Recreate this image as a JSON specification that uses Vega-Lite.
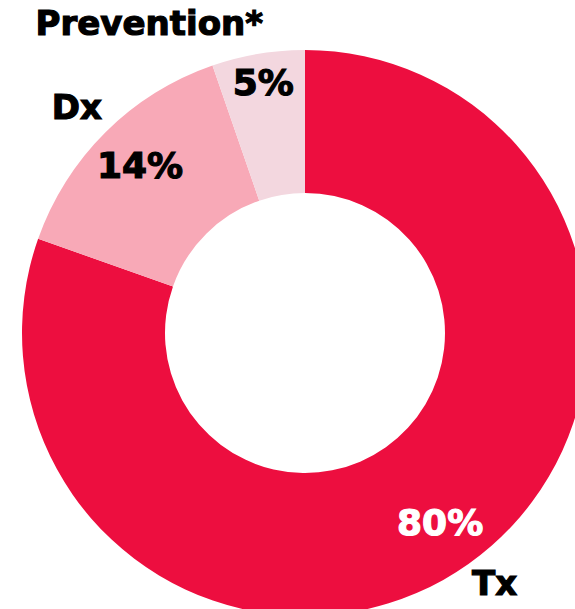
{
  "$schema": "https://vega.github.io/schema/vega-lite/v6.json",
  "autosize": "none",
  "width": 610,
  "height": 666,
  "padding": {"left": 0, "top": 0, "right": -35, "bottom": -57},
  "background": "white",
  "data": {
    "values": [
      {"name": "Tx", "title": "Tx", "value": 80.4, "label": "80%", "rank": 1},
      {"name": "Dx", "title": "Dx", "value": 14.3, "label": "14%", "rank": 2},
      {"name": "Prevention", "title": "Prevention*", "value": 5.3, "label": "5%", "rank": 3}
    ]
  },
  "encoding": {
    "theta": {"field": "value", "type": "quantitative", "stack": true},
    "order": {"field": "rank", "type": "quantitative"}
  },
  "layer": [
    {
      "mark": {"type": "arc", "radius": 283, "innerRadius": 140, "stroke": null},
      "encoding": {
        "color": {
          "field": "name",
          "type": "nominal",
          "scale": {"domain": ["Tx", "Dx", "Prevention"], "range": ["#ED0E3F", "#F8A9B7", "#F3D7DF"]},
          "legend": null
        }
      }
    },
    {
      "mark": {"type": "text", "radius": 234, "font": "DejaVu Sans", "fontWeight": "bold", "fontSize": 36, "align": "center", "baseline": "middle", "strokeWidth": 1.2},
      "encoding": {
        "text": {"condition": {"test": "datum.name !== 'Prevention'", "field": "label"}, "value": ""},
        "color": {"condition": {"test": "datum.name === 'Tx'", "value": "white"}, "value": "black"},
        "stroke": {"condition": {"test": "datum.name === 'Tx'", "value": "white"}, "value": "black"}
      }
    },
    {
      "mark": {"type": "text", "radius": 252, "font": "DejaVu Sans", "fontWeight": "bold", "fontSize": 36, "align": "center", "baseline": "middle", "color": "black", "stroke": "black", "strokeWidth": 1.2},
      "encoding": {
        "text": {"condition": {"test": "datum.name === 'Prevention'", "field": "label"}, "value": ""}
      }
    },
    {
      "mark": {"type": "text", "radius": 318, "dx": -4, "dy": 2, "font": "DejaVu Sans", "fontWeight": "bold", "fontSize": 34, "align": "center", "baseline": "middle", "color": "black", "stroke": "black", "strokeWidth": 1.2},
      "encoding": {
        "text": {"condition": {"test": "datum.name === 'Dx'", "field": "title"}, "value": ""}
      }
    },
    {
      "mark": {"type": "text", "radius": 318, "dx": 6, "dy": -8, "font": "DejaVu Sans", "fontWeight": "bold", "fontSize": 34, "align": "center", "baseline": "middle", "color": "black", "stroke": "black", "strokeWidth": 1.2},
      "encoding": {
        "text": {"condition": {"test": "datum.name === 'Tx'", "field": "title"}, "value": ""}
      }
    },
    {
      "mark": {"type": "text", "radius": 318, "dx": -103, "dy": 6, "font": "DejaVu Sans", "fontWeight": "bold", "fontSize": 34, "align": "center", "baseline": "middle", "color": "black", "stroke": "black", "strokeWidth": 1.2},
      "encoding": {
        "text": {"condition": {"test": "datum.name === 'Prevention'", "field": "title"}, "value": ""}
      }
    }
  ],
  "config": {"view": {"stroke": null}}
}
